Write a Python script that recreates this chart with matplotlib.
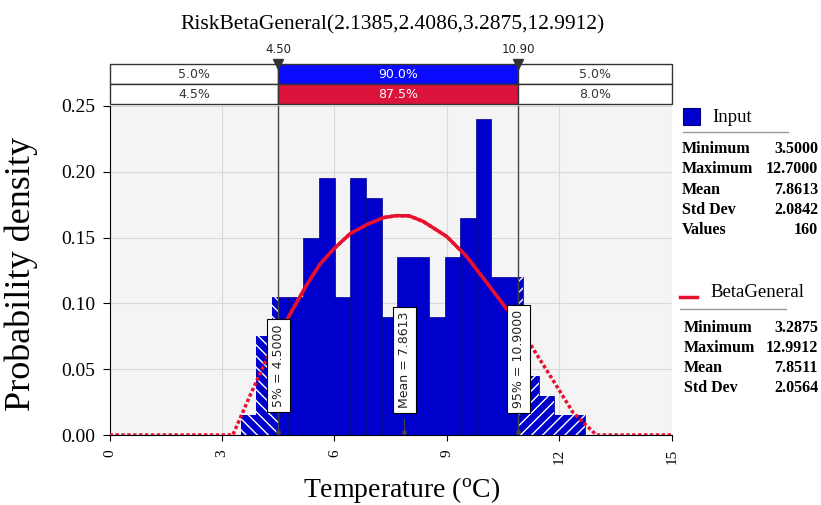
import numpy as np
import matplotlib
matplotlib.use("Agg")
import matplotlib.pyplot as plt
from matplotlib.patches import Rectangle
from matplotlib.lines import Line2D

# histogram of the input data (density per bin)
bin_edges = [3.50, 3.92, 4.34, 4.75, 5.17, 5.59, 6.01, 6.43, 6.85, 7.26, 7.68, 8.10,
             8.52, 8.94, 9.35, 9.77, 10.19, 10.61, 11.03, 11.45, 11.86, 12.28, 12.70]
density = [0.015, 0.075, 0.105, 0.105, 0.150, 0.195, 0.105, 0.195, 0.180, 0.090, 0.135,
           0.135, 0.090, 0.135, 0.165, 0.240, 0.120, 0.120, 0.045, 0.030, 0.015, 0.015]

# fitted BetaGeneral curve
fit_x = [0, 3.29, 3.75, 4.2, 4.82, 5.26, 5.62, 5.97, 6.42, 6.86, 7.31, 7.66, 8.0, 8.37,
         9.0, 9.53, 10.15, 10.69, 11.22, 11.84, 12.37, 12.99, 15]
fit_y = [0, 0, 0.03, 0.058, 0.092, 0.114, 0.130, 0.141, 0.153, 0.1598, 0.1652,
         0.1667, 0.1665, 0.1623, 0.1508, 0.1356, 0.1126, 0.0923, 0.0693, 0.0413, 0.017, 0, 0]

p_low, p_high = 4.5, 10.9
mean_val = 7.8613
band_input = ["5.0%", "90.0%", "5.0%"]
band_fit = ["4.5%", "87.5%", "8.0%"]

input_stats = [("Minimum", "3.5000"), ("Maximum", "12.7000"), ("Mean", "7.8613"),
               ("Std Dev", "2.0842"), ("Values", "160")]
fit_stats = [("Minimum", "3.2875"), ("Maximum", "12.9912"), ("Mean", "7.8511"),
             ("Std Dev", "2.0564")]

SERIF = "Liberation Serif"
SANS = "DejaVu Sans"
BLUE = "#0000cc"
RED = "#e8102e"

W, H = 821, 505
fig = plt.figure(figsize=(W / 100, H / 100), dpi=100)


def fx(px):
    return px / W


def fy(py):
    return 1 - py / H


ax = fig.add_axes([fx(109.5), fy(435), fx(671.7) - fx(109.5), fy(106) - fy(435)])
ax.set_facecolor("#f4f4f4")
ax.set_xlim(0, 15)
ax.set_ylim(0, 0.25)
ax.grid(True, color="#d8d8d8", lw=0.8)
ax.set_axisbelow(True)
for s in ["top", "right"]:
    ax.spines[s].set_visible(False)

lefts = np.array(bin_edges[:-1])
widths = np.diff(bin_edges)
ax.bar(lefts, density, width=widths, align="edge", color=BLUE,
       edgecolor="#00008b", lw=0.5, zorder=2)

# hatch the tails beyond the 5% / 95% marks
left_clip = Rectangle((-1, -1), p_low + 1, 2, transform=ax.transData)
right_clip = Rectangle((p_high, -1), 10, 2, transform=ax.transData)
for hatch, clip in [("\\\\\\", left_clip), ("///", right_clip)]:
    bars = ax.bar(lefts, density, width=widths, align="edge", facecolor=BLUE,
                  edgecolor="white", lw=0, hatch=hatch, zorder=3)
    for b in bars:
        b.set_clip_path(clip)

for xv in [p_low, p_high]:
    ax.axvline(xv, color="#444444", lw=1, zorder=4)

# fitted curve: dotted everywhere, solid inside the 90% band
ax.plot(fit_x, fit_y, color=RED, lw=2.5, ls=(0, (1, 0.7)), zorder=5)
solid, = ax.plot(fit_x, fit_y, color=RED, lw=2.5, zorder=6)
solid.set_clip_path(Rectangle((p_low, -1), p_high - p_low, 2, transform=ax.transData))

box = dict(boxstyle="square,pad=0.4", fc="white", ec="black", lw=0.8)
for xv, yc, txt in [(p_low, 0.053, "5% = 4.5000"), (mean_val, 0.057, "Mean = 7.8613"),
                    (p_high, 0.058, "95% = 10.9000")]:
    ax.plot([xv, xv], [0, 0.012], color="#444444", lw=0.8, zorder=7)
    ax.plot([xv], [0.002], "o", ms=2.5, color="#444444", zorder=7)
    ax.text(xv, yc, txt, rotation=90, ha="center", va="center", fontsize=9,
            family=SANS, color="#222222", bbox=box, zorder=8)

ax.set_xticks([0, 3, 6, 9, 12, 15])
ax.set_xticklabels(["0", "3", "6", "9", "12", "15"], rotation=90, family=SERIF, fontsize=11)
ax.set_yticks([0, 0.05, 0.10, 0.15, 0.20, 0.25])
ax.set_yticklabels(["0.00", "0.05", "0.10", "0.15", "0.20", "0.25"], family=SERIF, fontsize=14)
ax.tick_params(axis="x", length=4, pad=6)
ax.tick_params(axis="y", length=5, pad=5)

ax.set_ylabel("Probability density", family=SERIF, fontsize=26)
ax.yaxis.set_label_coords(-0.127, 0.49)
ax.set_xlabel(r"Temperature ($\mathregular{^o}$C)", family=SERIF, fontsize=20)
ax.xaxis.set_label_coords(0.52, -0.122)

# percentile band strip above the plot
top = fig.add_axes([fx(109.5), fy(104.3), fx(671.7) - fx(109.5), fy(64.3) - fy(104.3)])
top.set_xlim(0, 15)
top.set_ylim(0, 2)
top.axis("off")
seg_left = [0, p_low, p_high]
seg_w = [p_low, p_high - p_low, 15 - p_high]
top.barh([1.5] * 3, seg_w, left=seg_left, height=1, color=["white", "#0a0aff", "white"],
         edgecolor="#333333", lw=1, clip_on=False)
top.barh([0.5] * 3, seg_w, left=seg_left, height=1, color=["white", "#dc143c", "white"],
         edgecolor="#333333", lw=1, clip_on=False)
for row, labels in [(1.5, band_input), (0.5, band_fit)]:
    for i, lab in enumerate(labels):
        top.text(seg_left[i] + seg_w[i] / 2, row, lab, ha="center", va="center",
                 fontsize=9, family=SANS, color="white" if i == 1 else "#333333")
top.plot([p_low, p_high], [2, 2], "v", ms=7, color="#333333", clip_on=False)
for xv, lab in [(p_low, "4.50"), (p_high, "10.90")]:
    top.annotate(lab, (xv, 2), xytext=(0, 6), textcoords="offset points", ha="center",
                 va="bottom", fontsize=8.5, family=SANS, color="#222222")

fig.text(fx(393), fy(25), "RiskBetaGeneral(2.1385,2.4086,3.2875,12.9912)", ha="center",
         va="center", family=SERIF, fontsize=15.5)

# legend / statistics panel
fig.patches.append(Rectangle((fx(683), fy(125)), fx(17), 17 / H, transform=fig.transFigure,
                             facecolor=BLUE, edgecolor="#000080", lw=0.8))
fig.text(fx(712), fy(117), "Input", va="center", family=SERIF, fontsize=13.5)
fig.lines.append(Line2D([fx(683), fx(788)], [fy(131.7)] * 2, transform=fig.transFigure,
                        color="#999999", lw=1))
for i, (k, v) in enumerate(input_stats):
    yy = fy(149 + 20.3 * i)
    fig.text(fx(682), yy, k, va="center", family=SERIF, fontsize=11.5, weight="bold")
    fig.text(fx(818), yy, v, va="center", ha="right", family=SERIF, fontsize=11.5, weight="bold")

fig.lines.append(Line2D([fx(680), fx(697)], [fy(296.7)] * 2, transform=fig.transFigure,
                        color=RED, lw=2.5))
fig.text(fx(710), fy(292.7), "BetaGeneral", va="center", family=SERIF, fontsize=13.5)
fig.lines.append(Line2D([fx(680), fx(786)], [fy(309)] * 2, transform=fig.transFigure,
                        color="#999999", lw=1))
for i, (k, v) in enumerate(fit_stats):
    yy = fy(327.7 + 20.2 * i)
    fig.text(fx(684), yy, k, va="center", family=SERIF, fontsize=11.5, weight="bold")
    fig.text(fx(818), yy, v, va="center", ha="right", family=SERIF, fontsize=11.5, weight="bold")

fig.savefig("out.png", dpi=100)
